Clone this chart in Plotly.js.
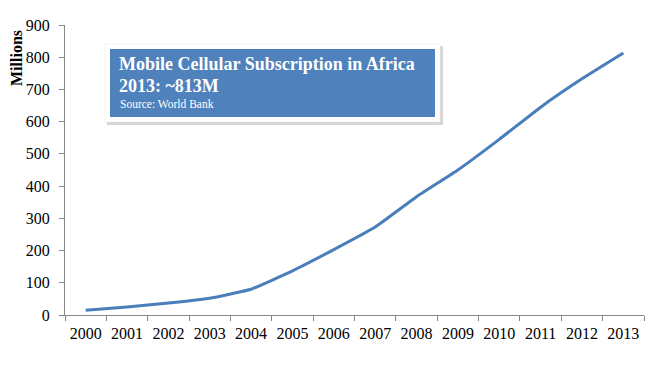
<!DOCTYPE html>
<html><head><meta charset="utf-8">
<script src="https://cdn.plot.ly/plotly-3.0.1.min.js"></script>
<style>body{margin:0;padding:0;background:#fff}#c{width:660px;height:369px}</style>
</head><body><div id="c"></div>
<script>
var years = ["2000","2001","2002","2003","2004","2005","2006","2007","2008","2009","2010","2011","2012","2013"];
var subscriptions = [15, 25, 37, 52, 80, 137, 203, 273, 367, 450, 545, 645, 733, 813];
var yTicks = [0,100,200,300,400,500,600,700,800,900];

var L=65, R=644, T=25, B=315, W=660, H=369;
function px(x){return (x-L)/(R-L);}
function py(y){return (B-y)/(B-T);}

var serif = "Liberation Serif, Times New Roman, serif";
var layout = {
  width:W, height:H,
  margin:{l:L, r:W-R, t:T, b:H-B, pad:0},
  paper_bgcolor:"#fff", plot_bgcolor:"#fff",
  showlegend:false,
  font:{family:serif, size:16, color:"#000"},
  xaxis:{type:"category", range:[-0.5,13.5], tickson:"boundaries", ticks:"outside", ticklen:5,
         tickcolor:"#868686", showline:true, linecolor:"#868686", linewidth:1, showgrid:false,
         zeroline:false, tickfont:{family:serif,size:16}, ticklabelstandoff:4},
  yaxis:{range:[0,900], tickvals:yTicks, ticks:"outside", ticklen:5, tickcolor:"#868686",
         showline:true, linecolor:"#868686", linewidth:1, showgrid:false, zeroline:false,
         tickfont:{family:serif,size:16}, ticklabelstandoff:6},
  shapes:[
    {type:"rect", xref:"paper", yref:"paper", x0:px(107), x1:px(443), y0:py(46), y1:py(125),
     fillcolor:"rgba(0,0,0,0.16)", line:{width:0}},
    {type:"rect", xref:"paper", yref:"paper", x0:px(105), x1:px(440), y0:py(44), y1:py(122),
     fillcolor:"#ffffff", line:{width:0.5,color:"#e6e6e6"}},
    {type:"rect", xref:"paper", yref:"paper", x0:px(110), x1:px(435), y0:py(49), y1:py(117),
     fillcolor:"#4F81BD", line:{width:0}}
  ],
  annotations:[
    {text:"<b>Millions</b>", xref:"paper", yref:"paper", x:px(16), y:py(58), textangle:-90,
     showarrow:false, font:{family:serif,size:16,color:"#000"}, xanchor:"center", yanchor:"middle"},
    {text:"<b>Mobile Cellular Subscription in Africa</b>", xref:"paper", yref:"paper", x:px(118), y:py(64),
     showarrow:false, xanchor:"left", yanchor:"middle", borderpad:0, font:{family:serif,size:18,color:"#fff"}},
    {text:"<b>2013: ~813M</b>", xref:"paper", yref:"paper", x:px(118), y:py(85.5),
     showarrow:false, xanchor:"left", yanchor:"middle", borderpad:0, font:{family:serif,size:18,color:"#fff"}},
    {text:"Source: World Bank", xref:"paper", yref:"paper", x:px(119), y:py(104),
     showarrow:false, xanchor:"left", yanchor:"middle", borderpad:0, font:{family:serif,size:11.5,color:"#fff"}}
  ]
};
var trace = {x:years, y:subscriptions, type:"scatter", mode:"lines",
  line:{color:"#4A7EBB", width:3, shape:"spline", smoothing:0.3}, hoverinfo:"x+y"};
Plotly.newPlot("c",[trace],layout,{displayModeBar:false, staticPlot:true});
</script></body></html>
